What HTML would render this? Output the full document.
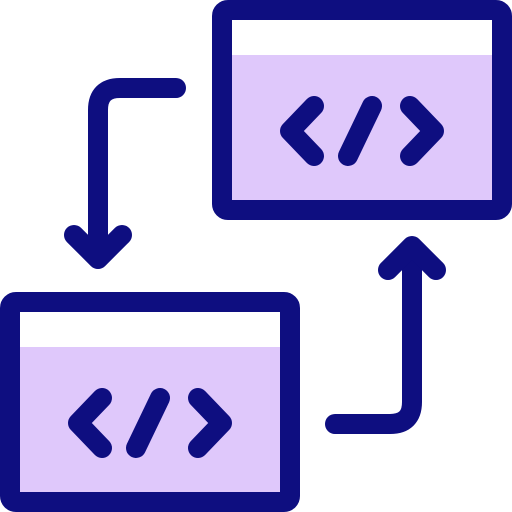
<!DOCTYPE html>
<html><head><style>html,body{margin:0;padding:0;background:#fff}svg{display:block}</style></head>
<body>
<svg width="512" height="512" viewBox="0 0 512 512" xmlns="http://www.w3.org/2000/svg">
<g fill="none" stroke="#0e0e80" stroke-width="20" stroke-linecap="round" stroke-linejoin="round">
<!-- top-right window -->
<rect x="222" y="10" width="280" height="200" fill="#fff" stroke="none"/>
<rect x="222" y="55" width="280" height="155" fill="#dfc8fb" stroke="none"/>
<rect x="222" y="10" width="280" height="200" rx="6"/>
<!-- bottom-left window -->
<rect x="10" y="302" width="280" height="200" fill="#fff" stroke="none"/>
<rect x="10" y="347" width="280" height="155" fill="#dfc8fb" stroke="none"/>
<rect x="10" y="302" width="280" height="200" rx="6"/>
<!-- code symbols top -->
<polyline points="314,106 290,131 314,156"/>
<line x1="372" y1="106" x2="348" y2="156"/>
<polyline points="410,106 434,131 410,156"/>
<!-- code symbols bottom -->
<polyline points="102,398 78,423 102,448"/>
<line x1="160" y1="398" x2="136" y2="448"/>
<polyline points="198,398 222,423 198,448"/>
<!-- arrow top-left -->
<path d="M176,88 H120 Q98,88 98,110 V255"/>
<polyline points="74,235 98,259 122,235"/>
<!-- arrow bottom-right -->
<path d="M335,424 H390 Q412,424 412,402 V250"/>
<polyline points="388,270 412,246 436,270"/>
</g>
</svg>
</body></html>
